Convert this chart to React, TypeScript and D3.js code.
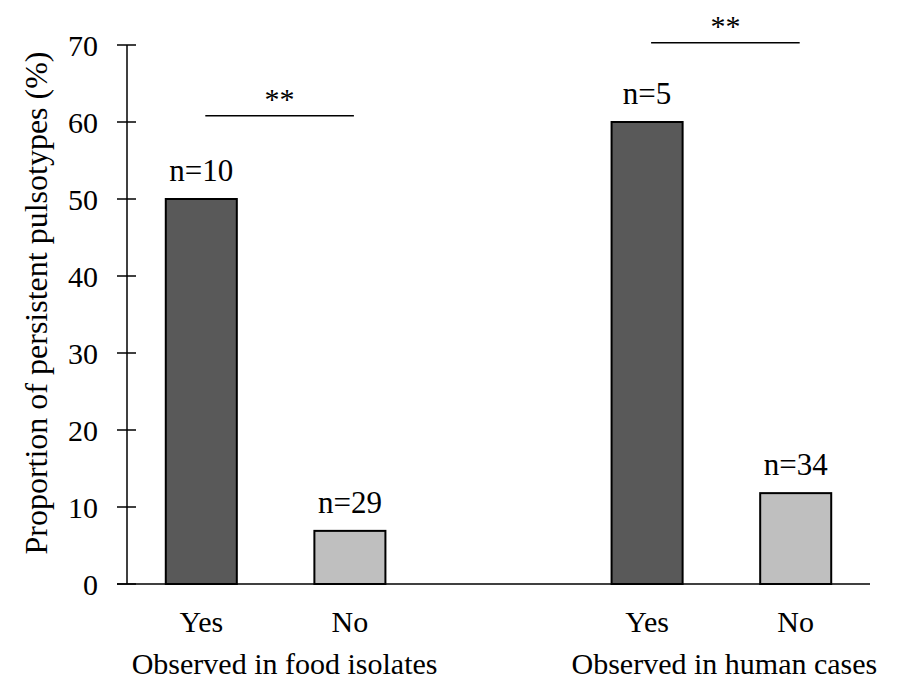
import React from 'react'
import * as d3 from 'd3'

// groups along the x axis, each with a Yes / No pair
const groups = ['Observed in food isolates', 'Observed in human cases']
const answers = ['Yes', 'No']
const foodValues = [50, 6.9]
const humanValues = [60, 11.8]
const foodCounts = ['n=10', 'n=29']
const humanCounts = ['n=5', 'n=34']
const sigMarks = ['**', '**']
const sigLevels = [60.8, 70.3]
const yTicks = [0, 10, 20, 30, 40, 50, 60, 70]

const W = 899
const H = 680
const left = 127
const right = 870
const top = 45
const bottom = 584
const font = '"Liberation Serif", "Times New Roman", serif'

const slots = ['food-Yes', 'food-No', 'gap', 'human-Yes', 'human-No']

const bars = [
	...answers.map((a, i) => ({ key: 'food-' + a, answer: a, value: foodValues[i], n: foodCounts[i] })),
	...answers.map((a, i) => ({ key: 'human-' + a, answer: a, value: humanValues[i], n: humanCounts[i] })),
]

const App = () => {
	const x = d3.scaleBand().domain(slots).range([left, right]).padding(0)
	const y = d3.scaleLinear().domain([0, 70]).range([bottom, top])
	const barW = x.bandwidth() * 0.478
	const cx = (k: string) => (x(k) as number) + x.bandwidth() / 2

	return (
		<svg width={W} height={H} style={{ position: 'absolute', left: 0, top: 0, background: '#fff' }}>
			<g fontFamily={font} fill="#000">
				{/* y axis */}
				<line x1={left} x2={left} y1={top} y2={bottom} stroke="#000" strokeWidth={1.5} />
				{yTicks.map((t) => (
					<g key={t}>
						<line x1={left - 10} x2={left + 9} y1={y(t)} y2={y(t)} stroke="#000" strokeWidth={1.5} />
						<text x={98} y={y(t)} dy="0.35em" textAnchor="end" fontSize={30}>
							{t}
						</text>
					</g>
				))}
				<text transform="translate(47, 303) rotate(-90)" textAnchor="middle" fontSize={32}>
					Proportion of persistent pulsotypes (%)
				</text>

				{/* bars */}
				{bars.map((b, i) => (
					<g key={b.key}>
						<rect
							x={cx(b.key) - barW / 2}
							y={y(b.value)}
							width={barW}
							height={bottom - y(b.value)}
							fill={i % 2 === 0 ? '#595959' : '#bfbfbf'}
							stroke="#000"
							strokeWidth={2}
						/>
						<text x={cx(b.key)} y={y(b.value) - 18} textAnchor="middle" fontSize={31}>
							{b.n}
						</text>
						<text x={cx(b.key)} y={632} textAnchor="middle" fontSize={30}>
							{b.answer}
						</text>
					</g>
				))}

				{/* x axis */}
				<line x1={117} x2={right} y1={bottom} y2={bottom} stroke="#000" strokeWidth={1.5} />

				{groups.map((g, gi) => {
					const pre = gi === 0 ? 'food-' : 'human-'
					const a = cx(pre + 'Yes')
					const b = cx(pre + 'No')
					const ly = y(sigLevels[gi])
					return (
						<g key={g}>
							<text x={(a + b) / 2 + (gi === 0 ? 9 : 3)} y={674} textAnchor="middle" fontSize={30}>
								{g}
							</text>
							<line x1={a + 4} x2={b + 4} y1={ly} y2={ly} stroke="#000" strokeWidth={1.5} />
							<text x={(a + b) / 2 + 4} y={ly - 7} textAnchor="middle" fontSize={30}>
								{sigMarks[gi]}
							</text>
						</g>
					)
				})}
			</g>
		</svg>
	)
}

export default App
